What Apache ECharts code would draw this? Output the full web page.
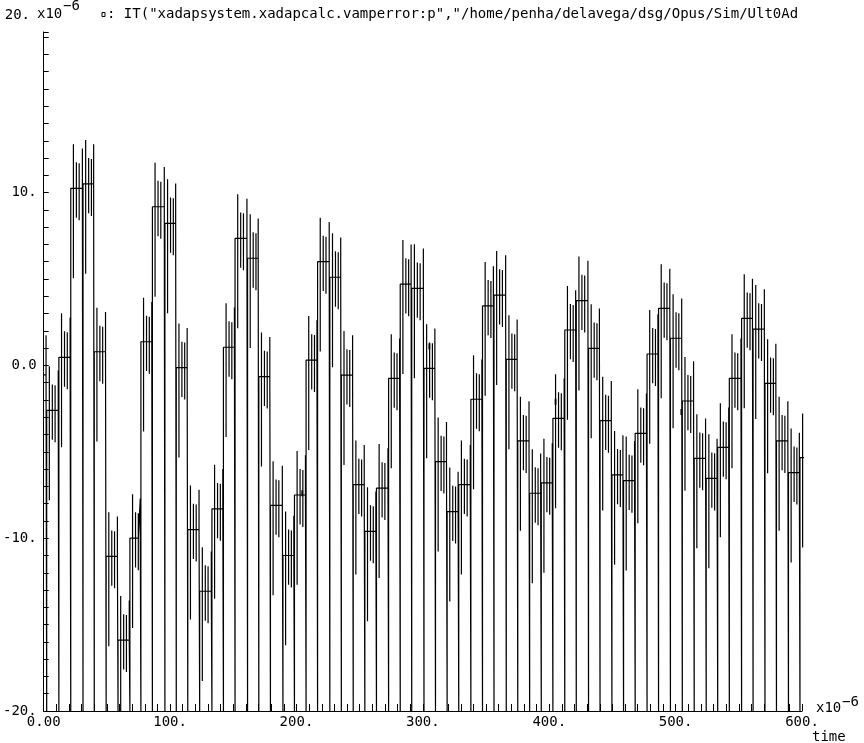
<!DOCTYPE html>
<html><head><meta charset="utf-8">
<script src="https://cdn.jsdelivr.net/npm/echarts@6/dist/echarts.min.js"></script>
<style>html,body{margin:0;padding:0;background:#fff}#c{width:864px;height:743px}</style>
</head><body><div id="c"></div>
<script>
// step start times (x10^-6 s) and step levels (x10^-6 A)
const stepStart = [0, 2.35, 12.0, 21.4, 31.1, 40.0, 49.4, 58.8, 68.2, 76.9,
  86.0, 95.9, 104.9, 114.0, 123.4, 133.1, 142.2, 151.4, 161.3, 170.2,
  179.4, 189.3, 198.4, 207.6, 216.7, 226.4, 235.5, 244.9, 254.1, 263.3,
  272.9, 282.1, 291.2, 300.9, 310.0, 319.2, 328.4, 338.0, 347.2, 356.3,
  366.0, 375.1, 384.5, 393.7, 402.9, 412.3, 421.4, 431.1, 440.2, 449.6,
  458.8, 468.0, 477.4, 486.5, 495.9, 505.3, 514.7, 524.2, 533.3, 542.5,
  552.2, 561.3, 570.7, 579.8, 589.3, 598.4];
const stepLevel = [-0.55, -2.6, 0.47, 10.25, 10.5, 0.79, -11.05, -15.9, -10.0, 1.37,
  9.18, 8.22, -0.13, -9.5, -13.07, -8.3, 1.05, 7.35, 6.2, -0.65,
  -8.1, -11.0, -7.5, 0.31, 6.0, 5.1, -0.56, -6.9, -9.6, -7.1,
  -0.75, 4.7, 4.46, -0.17, -5.57, -8.46, -6.9, -1.96, 3.44, 4.07,
  0.35, -4.37, -7.4, -6.8, -3.06, 2.05, 3.75, 0.99, -3.2, -6.34,
  -6.67, -3.93, 0.66, 3.3, 1.57, -2.06, -5.38, -6.54, -4.74, -0.75,
  2.72, 2.1, -1.04, -4.37, -6.2, -5.34];
const endTime = 606.3;
// noise spikes inside each step: time after step start, excursion above / below the level
const spikeOffset = [2.1, 4.45, 6.65];
const spikeTop = [2.55, 1.5, 1.45];
const spikeBottom = [-5.2, -1.7, -1.85];
// spike just before each step edge, and the dip (to the bottom of the plot) at each edge
const preEdgeOffset = 0.5;
const preEdgeTop = 2.3;
const edgeDip = -20;
// small marker symbols on the curve
const markerPts = [[204.5, -7.4], [305.1, 1.1], [405.0, -2.1], [504.5, -2.7]];
// tick labels
const xTickValues = [0, 100, 200, 300, 400, 500, 600];
const xTickLabels = ['0.00', '100.', '200.', '300.', '400.', '500.', '600.'];
const yTickValues = [-20, -10, 0, 10];
const yTickLabels = ['-20.', '-10.', '0.0', '10.'];
const yTopLabel = '20.';

const titleText = ': IT("xadapsystem.xadapcalc.vamperror:p","/home/penha/delavega/dsg/Opus/Sim/Ult0Ad';

const pts = [];
for (let i = 0; i < stepStart.length; i++) {
  const s = stepStart[i], L = stepLevel[i];
  const last = i + 1 >= stepStart.length;
  const e = last ? endTime : stepStart[i + 1];
  if (i > 0) pts.push([s, edgeDip]);
  pts.push([s, L]);
  for (let k = 0; k < spikeOffset.length; k++) {
    const t = s + spikeOffset[k];
    if (t >= e - preEdgeOffset) break;
    pts.push([t, L], [t, L + spikeTop[k]], [t, Math.max(edgeDip, L + spikeBottom[k])], [t, L]);
  }
  if (!last) {
    const t = e - preEdgeOffset;
    pts.push([t, L], [t, L + preEdgeTop], [t, L]);
  }
  pts.push([e, L]);
}

function labelFor(v, vals, labs) {
  for (let i = 0; i < vals.length; i++) if (Math.abs(v - vals[i]) < 1e-6) return labs[i];
  return '';
}

const FONT = '"DejaVu Sans Mono", monospace';
const chart = echarts.init(document.getElementById('c'), null, {renderer: 'canvas'});
chart.setOption({
  backgroundColor: '#fff',
  animation: false,
  grid: {left: 37, top: 31.9, right: 62, bottom: 32, containLabel: false},
  xAxis: {
    type: 'value', min: 0, max: 600, interval: 10,
    axisLine: {show: true, onZero: false, lineStyle: {color: '#000', width: 1}},
    axisTick: {show: true, inside: true, length: 7, lineStyle: {color: '#000', width: 1}},
    splitLine: {show: false},
    axisLabel: {
      show: true, interval: 0, color: '#000', fontFamily: FONT, fontSize: 14, margin: 4,
      formatter: v => labelFor(v, xTickValues, xTickLabels)
    }
  },
  yAxis: {
    type: 'value', min: -20, max: 19.3, interval: 1,
    axisLine: {show: true, onZero: false, lineStyle: {color: '#000', width: 1}},
    axisTick: {show: true, inside: true, length: 5, lineStyle: {color: '#000', width: 1}},
    splitLine: {show: false},
    axisLabel: {
      show: true, interval: 0, color: '#000', fontFamily: FONT, fontSize: 14, margin: 7,
      formatter: v => labelFor(v, yTickValues, yTickLabels)
    }
  },
  series: [
    {
      type: 'line', data: pts, showSymbol: false, symbol: 'none', clip: false,
      sampling: null,
      lineStyle: {color: '#000', width: 1.2}
    },
    {
      type: 'scatter', data: markerPts, symbol: 'rect', symbolSize: [2, 6],
      itemStyle: {color: '#000'}
    }
  ],
  graphic: [
    {type: 'text', x: 30, y: 15, style: {text: yTopLabel, font: '14px ' + FONT, fill: '#000', align: 'right', verticalAlign: 'middle'}},
    {type: 'text', x: 37, y: 14, style: {text: 'x10', font: '14px ' + FONT, fill: '#000', verticalAlign: 'middle'}},
    {type: 'text', x: 63, y: 6, style: {text: '\u22126', font: '14px ' + FONT, fill: '#000', verticalAlign: 'middle'}},
    {type: 'rect', shape: {x: 102, y: 12.5, width: 3, height: 4}, style: {fill: 'none', stroke: '#000', lineWidth: 1}},
    {type: 'text', x: 107, y: 14, style: {text: titleText, font: '14px ' + FONT, fill: '#000', verticalAlign: 'middle'}},
    {type: 'text', x: 816, y: 708, style: {text: 'x10', font: '14px ' + FONT, fill: '#000', verticalAlign: 'middle'}},
    {type: 'text', x: 842, y: 702, style: {text: '\u22126', font: '14px ' + FONT, fill: '#000', verticalAlign: 'middle'}},
    {type: 'text', x: 812, y: 737, style: {text: 'time', font: '14px ' + FONT, fill: '#000', verticalAlign: 'middle'}}
  ]
});
</script></body></html>
